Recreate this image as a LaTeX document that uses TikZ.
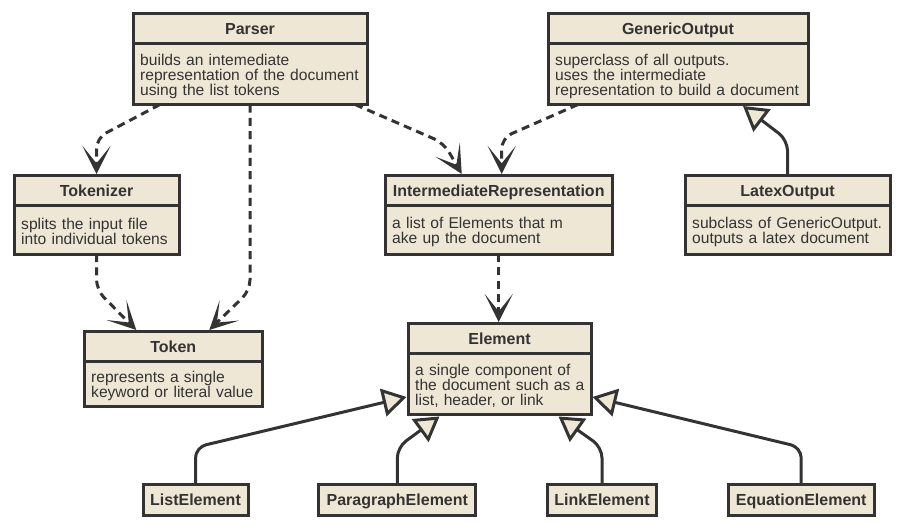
\documentclass[tikz,border=0pt]{standalone}
\usepackage{fontspec}
\setmainfont{Liberation Sans}
\usetikzlibrary{arrows.meta,calc}

\definecolor{classfill}{RGB}{239,231,214}
\definecolor{classline}{RGB}{51,51,51}

\tikzset{every picture/.style={line width=2.25pt}}
\tikzset{
  classhead/.style={draw=classline, fill=classfill, anchor=north west, inner sep=0pt, minimum height=22.5pt, text depth=0pt, font=\fontsize{12}{11.25}\selectfont\bfseries},
  classbody/.style={draw=classline, fill=classfill, anchor=north west, align=left, outer sep=0pt, inner xsep=5.4pt, inner ysep=0pt, text width=#1,
    execute at begin node={\rightskip=0pt plus 1fil minus 30pt},
    execute at end node={\par\kern-3pt}},
  uses/.style={draw=classline, dash pattern=on 6pt off 4pt, rounded corners=8pt, -{Stealth[length=21pt,width=21pt,inset=13pt]}},
  extends/.style={draw=classline, rounded corners=8pt, -{Triangle[length=18pt,width=21pt,fill=classfill]}}
}

\begin{document}
\begin{tikzpicture}[x=0.75pt,y=0.75pt,yscale=-1,xscale=1,text=classline,font=\fontsize{11.7}{11.25}\selectfont]
\useasboundingbox (0,0) rectangle (902,528);

% Class Parser
\node [classhead, minimum width=175.5pt] (parser) at (131.5,12) {Parser};
\node [classbody=164.7pt, minimum height=45.75pt] (parserb) at ($(parser.south west)+(1.5,-1.5)$) {builds an intemediate\\representation of the document\\using the list tokens};
% Class GenericOutput
\node [classhead, minimum width=195pt] (generic) at (546.5,12) {GenericOutput};
\node [classbody=184.2pt, minimum height=45.75pt] (genericb) at ($(generic.south west)+(1.5,-1.5)$) {superclass of all outputs.\\uses the intermediate\\representation to build a document};
% Class Tokenizer
\node [classhead, minimum width=123.75pt] (tokenizer) at (12.5,174) {Tokenizer};
\node [classbody=112.95pt, minimum height=36.4pt] (tokenizerb) at ($(tokenizer.south west)+(1.5,-1.5)$) {splits the input file\\into individual tokens};
% Class IntermediateRepresentation
\node [classhead, minimum width=170.6pt] (ir) at (383.5,174) {IntermediateRepresentation};
\node [classbody=159.8pt, minimum height=36.4pt] (irb) at ($(ir.south west)+(1.5,-1.5)$) {a list of Elements that m\\ake up the document};
% Class LatexOutput
\node [classhead, minimum width=153.75pt] (latex) at (683.5,174) {LatexOutput};
\node [classbody=142.95pt, minimum height=36.4pt] (latexb) at ($(latex.south west)+(1.5,-1.5)$) {subclass of GenericOutput.\\outputs a latex document};
% Class Token
\node [classhead, minimum width=133.9pt] (token) at (82.5,330) {Token};
\node [classbody=123.1pt, minimum height=34.1pt] (tokenb) at ($(token.south west)+(1.5,-1.5)$) {represents a single\\keyword or literal value};
% Class Element
\node [classhead, minimum width=137.25pt] (element) at (406.5,322) {Element};
\node [classbody=126.45pt, minimum height=46.1pt] (elementb) at ($(element.south west)+(1.5,-1.5)$) {a single component of\\the document such as a\\list, header, or link};
% Subclasses of Element
\node [classhead, minimum width=78.75pt, minimum height=22.9pt] (list) at (141.5,483.3) {ListElement};
\node [classhead, minimum width=117.75pt, minimum height=22.9pt] (paragraph) at (317.3,483.3) {ParagraphElement};
\node [classhead, minimum width=82.2pt, minimum height=22.9pt] (link) at (545.7,483.3) {LinkElement};
\node [classhead, minimum width=109.5pt, minimum height=22.9pt] (equation) at (726.7,483.3) {EquationElement};

% Dependencies
\draw [uses] ($(parserb.south west)+(27,0)$) -- ($(tokenizer.north)+(0,-36)$) -- (tokenizer.north);
\draw [uses] (parserb.south) -- ++(0,186) -- ($(token.north)+(36,0)$);
\draw [uses] (tokenizerb.south) -- ++(0,36) -- ($(token.north)+(-37,0)$);
\draw [uses] ($(parserb.south east)+(-12,0)$) -- ($(ir.north)+(-55,-31)$) -- ($(ir.north)+(-37,0)$);
\draw [uses] ($(genericb.south west)+(30,0)$) -- ($(ir.north)+(3,-36)$) -- ($(ir.north)+(3,0)$);
\draw [uses] (irb.south) -- (irb.south |- element.north);

% Generalizations
\draw [extends] (latex.north) -- ++(0,-34) -- ($(genericb.south)+(65,1.5)$);
\draw [extends] (list.north) -- ++(0,-36) -- ($(elementb.south west)+(-1.5,-18)$);
\draw [extends] (paragraph.north) -- ++(0,-36) -- ($(elementb.south)+(-60,1.5)$);
\draw [extends] (link.north) -- ++(0,-36) -- ($(elementb.south)+(59,1.5)$);
\draw [extends] (equation.north) -- ++(0,-36) -- ($(elementb.south east)+(1.5,-18)$);
\end{tikzpicture}
\end{document}
